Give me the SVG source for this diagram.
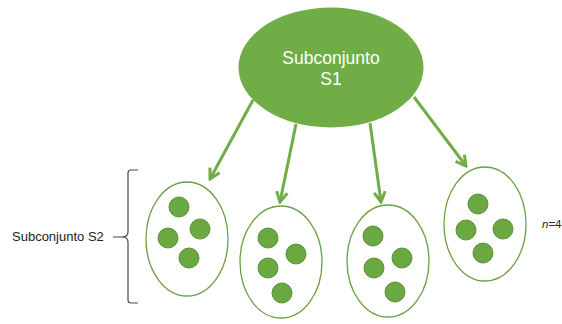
<svg xmlns="http://www.w3.org/2000/svg" width="562" height="324" viewBox="0 0 562 324">
  <style>
    .lbl { font-family: "Liberation Sans", Arial, sans-serif; }
    .set { fill: #ffffff; stroke: #6A9F45; stroke-width: 1.3; }
    .dot { fill: #6AA842; stroke: #5B9237; stroke-width: 1; }
    .edge { stroke: #70AD47; stroke-width: 3; fill: none; marker-end: url(#chev); }
  </style>
  <defs>
    <marker id="chev" viewBox="0 0 14 14" refX="12" refY="7" markerWidth="14" markerHeight="14" markerUnits="userSpaceOnUse" orient="auto">
      <path d="M2,1.5 L12,7 L2,12.5" fill="none" stroke="#70AD47" stroke-width="3"/>
    </marker>
  </defs>

  <!-- root set -->
  <g id="s1">
    <ellipse cx="331" cy="67.5" rx="92.5" ry="60" fill="#70AD47"/>
    <text class="lbl" x="331" y="64" font-size="17.5" fill="#ffffff" text-anchor="middle">Subconjunto</text>
    <text class="lbl" x="331" y="85" font-size="17.5" fill="#ffffff" text-anchor="middle">S1</text>
  </g>

  <!-- connectors -->
  <g id="edges">
    <path class="edge" d="M253,100 L210,179"/>
    <path class="edge" d="M296,124 L280,202"/>
    <path class="edge" d="M370,123 L381,202"/>
    <path class="edge" d="M414,97 L466,166"/>
  </g>

  <!-- subsets -->
  <g id="sub1">
    <ellipse class="set" cx="187" cy="239" rx="41" ry="57"/>
    <circle class="dot" cx="179" cy="207" r="10"/>
    <circle class="dot" cx="200" cy="229" r="10"/>
    <circle class="dot" cx="168" cy="238" r="10"/>
    <circle class="dot" cx="189" cy="258" r="10"/>
  </g>
  <g id="sub2">
    <ellipse class="set" cx="281" cy="262" rx="41" ry="56"/>
    <circle class="dot" cx="268" cy="238" r="10"/>
    <circle class="dot" cx="296" cy="254" r="10"/>
    <circle class="dot" cx="268" cy="268" r="10"/>
    <circle class="dot" cx="282" cy="293" r="10"/>
  </g>
  <g id="sub3">
    <ellipse class="set" cx="388" cy="261" rx="41" ry="56"/>
    <circle class="dot" cx="373" cy="236" r="10"/>
    <circle class="dot" cx="402" cy="258" r="10"/>
    <circle class="dot" cx="374" cy="268" r="10"/>
    <circle class="dot" cx="395" cy="292" r="10"/>
  </g>
  <g id="sub4">
    <ellipse class="set" cx="485" cy="224" rx="41" ry="57"/>
    <circle class="dot" cx="478" cy="204" r="10"/>
    <circle class="dot" cx="466" cy="230" r="10"/>
    <circle class="dot" cx="503" cy="229" r="10"/>
    <circle class="dot" cx="483" cy="253" r="10"/>
  </g>

  <!-- brace and labels -->
  <g id="brace">
    <path d="M138,170 L131,170 Q128,170 128,173 L128,232 Q128,237 122,237 L113,237 M122,237 Q128,237 128,242 L128,300 Q128,303 131,303 L138,303" fill="none" stroke="#4a4a4a" stroke-width="1.2"/>
    <text class="lbl" x="12" y="241" font-size="13" fill="#222222">Subconjunto S2</text>
  </g>
  <g id="n-label">
    <text class="lbl" x="542" y="228" font-size="11.5" fill="#222222"><tspan font-style="italic">n</tspan>=4</text>
  </g>
</svg>
